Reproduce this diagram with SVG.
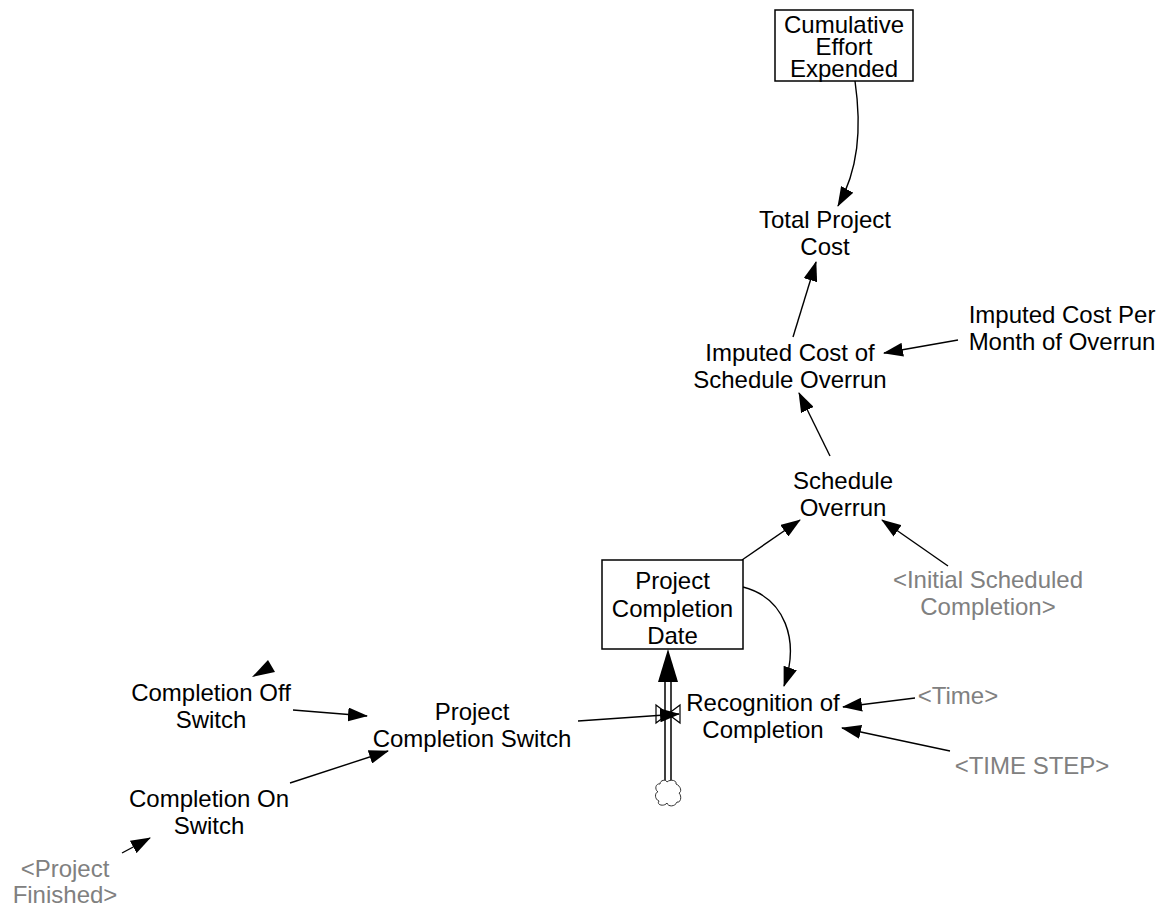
<svg xmlns="http://www.w3.org/2000/svg" width="1162" height="907" viewBox="0 0 1162 907">
<style>
text{font-family:"Liberation Sans",Arial,sans-serif;font-size:24px;fill:#000;text-anchor:middle}
text.shadow{fill:#808080}
.box{fill:#fff;stroke:#000;stroke-width:1.5}
.link{fill:none;stroke:#000;stroke-width:1.4;marker-end:url(#ah)}
</style>
<defs>
<marker id="ah" markerUnits="userSpaceOnUse" markerWidth="20" markerHeight="14" viewBox="0 0 20 14" refX="19" refY="7" orient="auto">
<path d="M0,0 L20,7 L0,14 z" fill="#000"/>
</marker>
</defs>
<rect width="1162" height="907" fill="#fff"/>
<g id="connectors">
<path class="link" d="M855,81 C862,130 858,170 838,206"/>
<path class="link" d="M793,337 L816,262"/>
<path class="link" d="M958,340 L884,353"/>
<path class="link" d="M830,456 L799,393"/>
<path class="link" d="M742,560 L800,520"/>
<path class="link" d="M948,566 L882,520"/>
<path class="link" d="M743,587 C785,598 800,640 784,686"/>
<path class="link" d="M915,698 L843,707"/>
<path class="link" d="M950,751 L842,728"/>
<path class="link" d="M293,710 L367,716"/>
<path class="link" d="M290,783 L388,751"/>
<path class="link" d="M122,853 L150,838"/>
<polygon points="268,660 275,672 252,677" fill="#000"/>
</g>
<g id="flow-recognition">
<line x1="668" y1="680" x2="668" y2="783" stroke="#000" stroke-width="7.5"/>
<line x1="668" y1="680" x2="668" y2="783" stroke="#fff" stroke-width="4.5"/>
<polygon points="668,649 658,682 678,682" fill="#000"/>
<polygon points="656,705 680,723 680,705 656,723" fill="#fff" stroke="#000" stroke-width="1.2"/>
<path class="link" d="M578,721 L679,714"/>
<path d="M660,784 C660,780 666,779 667,782 C670,779 677,780 676,784 C681,786 682,792 679,793 C682,796 681,803 677,802 C675,807 668,807 667,803 C664,807 656,805 659,801 C654,799 655,792 658,792 C654,789 656,783 660,784 Z" fill="#fff" stroke="#333" stroke-width="1"/>
</g>
<g id="cumulative-effort-expended">
<rect class="box" x="775" y="10" width="138" height="71"/>
<text x="844" y="33">Cumulative</text>
<text x="844" y="55">Effort</text>
<text x="844" y="77">Expended</text>
</g>
<g id="total-project-cost">
<text x="825" y="228">Total Project</text>
<text x="825" y="255">Cost</text>
</g>
<g id="imputed-cost-of-schedule-overrun">
<text x="790" y="361">Imputed Cost of</text>
<text x="790" y="388">Schedule Overrun</text>
</g>
<g id="imputed-cost-per-month">
<text x="1062" y="323">Imputed Cost Per</text>
<text x="1062" y="350">Month of Overrun</text>
</g>
<g id="schedule-overrun">
<text x="843" y="489">Schedule</text>
<text x="843" y="516">Overrun</text>
</g>
<g id="initial-scheduled-completion">
<text class="shadow" x="988" y="588">&lt;Initial Scheduled</text>
<text class="shadow" x="988" y="615">Completion&gt;</text>
</g>
<g id="project-completion-date">
<rect class="box" x="602" y="560" width="141" height="89"/>
<text x="672.5" y="589">Project</text>
<text x="672.5" y="617">Completion</text>
<text x="672.5" y="644">Date</text>
</g>
<g id="recognition-of-completion">
<text x="763" y="711">Recognition of</text>
<text x="763" y="738">Completion</text>
</g>
<g id="time">
<text class="shadow" x="958" y="704">&lt;Time&gt;</text>
</g>
<g id="time-step">
<text class="shadow" x="1032" y="774">&lt;TIME STEP&gt;</text>
</g>
<g id="project-completion-switch">
<text x="472" y="720">Project</text>
<text x="472" y="747">Completion Switch</text>
</g>
<g id="completion-off-switch">
<text x="211" y="701">Completion Off</text>
<text x="211" y="728">Switch</text>
</g>
<g id="completion-on-switch">
<text x="209" y="807">Completion On</text>
<text x="209" y="834">Switch</text>
</g>
<g id="project-finished">
<text class="shadow" x="65" y="877">&lt;Project</text>
<text class="shadow" x="65" y="903">Finished&gt;</text>
</g>
</svg>
